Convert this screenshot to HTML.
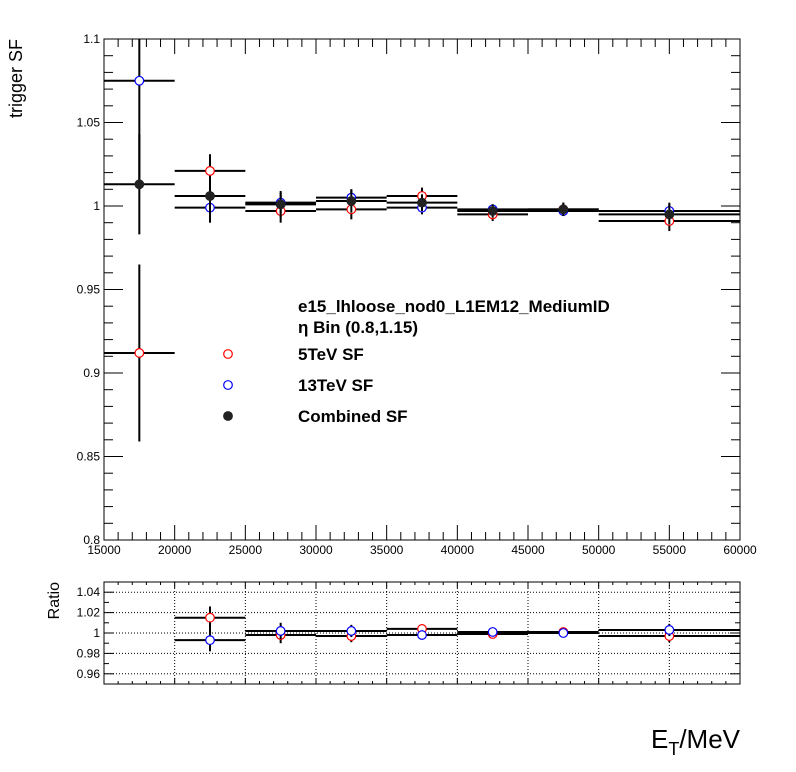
<!DOCTYPE html>
<html><head><meta charset="utf-8"><style>
body{margin:0;background:#fff;}
svg{display:block;font-family:"Liberation Sans",sans-serif;}
</style></head><body>
<svg id="c" width="796" height="772" xmlns="http://www.w3.org/2000/svg"></svg>
<script>
const binLo=[15000,20000,25000,30000,35000,40000,45000,50000];
const binHi=[20000,25000,30000,35000,40000,45000,50000,60000];
const sf5=[0.912,1.021,0.997,0.998,1.006,0.995,0.998,0.991];
const sf5Err=[0.053,0.010,0.007,0.006,0.005,0.004,0.004,0.006];
const sf13=[1.075,0.999,1.002,1.005,0.999,0.998,0.997,0.997];
const sf13Err=[0.06,0.009,0.006,0.005,0.004,0.003,0.003,0.005];
const sfComb=[1.013,1.006,1.001,1.003,1.002,0.997,0.998,0.995];
const sfCombErr=[0.03,0.011,0.008,0.007,0.005,0.004,0.004,0.006];
const ratio5=[null,1.015,0.998,0.997,1.004,0.999,1.001,0.997];
const ratio13=[null,0.993,1.002,1.002,0.998,1.001,1.000,1.003];
const ratioErr=[null,0.011,0.008,0.006,0.004,0.003,0.003,0.006];
const xTicks=[15000,20000,25000,30000,35000,40000,45000,50000,55000,60000];
const yTicks=[0.8,0.85,0.9,0.95,1,1.05,1.1];
const yLabels=["0.8","0.85","0.9","0.95","1","1.05","1.1"];
const rTicks=[0.96,0.98,1,1.02,1.04];
const rLabels=["0.96","0.98","1","1.02","1.04"];

const NS="http://www.w3.org/2000/svg";
const svg=document.getElementById('c');
const L=104,R=740,T=39,B=540,RT=582,RB=684;
const X=v=>L+(v-15000)/45000*(R-L);
const Y=v=>B-(v-0.8)/0.3*(B-T);
const YR=v=>RB-(v-0.95)/0.1*(RB-RT);
function mk(tag,a,txt){const e=document.createElementNS(NS,tag);for(const k in a)e.setAttribute(k,a[k]);if(txt!==undefined)e.textContent=txt;svg.appendChild(e);return e;}
function line(x1,y1,x2,y2,w,extra){const e=mk('line',Object.assign({x1,y1,x2,y2,stroke:'#000','stroke-width':w||1},extra||{}));return e;}

let f=mk('rect',{x:L,y:T,width:R-L,height:B-T,fill:'none',stroke:'#000','stroke-width':1});


f=mk('rect',{x:L,y:RT,width:R-L,height:RB-RT,fill:'none',stroke:'#000','stroke-width':1});



for(let v=15000;v<=60000;v+=1000){
  const maj=v%5000===0, x=X(v);
  const lm=maj?15:8;
  line(x,B,x,B-lm);line(x,T,x,T+lm);
  const lr=maj?6:3;
  line(x,RB,x,RB-lr);line(x,RT,x,RT+lr);
}
xTicks.forEach(v=>{const t=mk('text',{x:X(v),y:B+14,'font-size':12,'text-anchor':'middle'},String(v));

});
for(let i=0;i<=30;i++){const v=0.8+i*0.01,y=Y(v),maj=i%5===0,lm=maj?19:9;
  line(L,y,L+lm,y);line(R,y,R-lm,y);}
yTicks.forEach((v,i)=>{const t=mk('text',{x:L-4,y:Y(v)+4,'font-size':12,'text-anchor':'end'},yLabels[i]);

});
xTicks.slice(1,-1).forEach(v=>line(X(v),RT,X(v),RB,1,{'stroke-dasharray':'1,2'}));
for(let i=0;i<=10;i++){const v=0.95+i*0.01,y=YR(v),maj=i%2===1,lm=maj?10:5;
  line(L,y,L+lm,y);line(R,y,R-lm,y);}
rTicks.forEach((v,i)=>{line(L,YR(v),R,YR(v),1,{'stroke-dasharray':'1,2'});
const t=mk('text',{x:L-4,y:YR(v)+4,'font-size':12,'text-anchor':'end'},rLabels[i]);

});

let t=mk('text',{x:0,y:0,'font-size':18,'text-anchor':'end',transform:'translate(22,39) rotate(-90)'},'trigger SF');


t=mk('text',{x:0,y:0,'font-size':16,'text-anchor':'end',transform:'translate(59,582) rotate(-90)'},'Ratio');


t=mk('text',{x:740,y:748,'font-size':26,'text-anchor':'end'});
t.innerHTML='E<tspan font-size="18" dy="7">T</tspan><tspan dy="-7">/MeV</tspan>';



function series(vals,errs,color,fill,Yf,name){
  vals.forEach((v,i)=>{
    if(v===null)return;
    const cx=X((binLo[i]+binHi[i])/2), y=Yf(v);
    const yt=Math.max(Yf===Y?T:RT,Yf(v+errs[i])), yb=Math.min(Yf===Y?B:RB,Yf(v-errs[i]));
    const g=document.createElementNS(NS,'g');svg.appendChild(g);
    
    
    const a=(tag,o)=>{const e=document.createElementNS(NS,tag);for(const k in o)e.setAttribute(k,o[k]);g.appendChild(e);};
    a('line',{x1:X(binLo[i]),x2:X(binHi[i]),y1:y,y2:y,stroke:'#000','stroke-width':2});
    a('line',{x1:cx,x2:cx,y1:yt,y2:yb,stroke:'#000','stroke-width':2});
    a('circle',{cx:cx,cy:y,r:4.3,fill:fill,stroke:color,'stroke-width':1.2});
  });
}
series(sf5,sf5Err,'#f00','#fff',Y,'sf-5tev');
series(sf13,sf13Err,'#00f','#fff',Y,'sf-13tev');
series(sfComb,sfCombErr,'#222','#222',Y,'sf-combined');
series(ratio5,ratioErr,'#f00','#fff',YR,'ratio-5tev');
series(ratio13,ratioErr,'#00f','#fff',YR,'ratio-13tev');

t=mk('text',{x:298,y:312,'font-size':17,'font-weight':'bold'},'e15_lhloose_nod0_L1EM12_MediumID');


t=mk('text',{x:298,y:333,'font-size':17,'font-weight':'bold'},'η Bin (0.8,1.15)');


[['5TeV SF','#f00','#fff',360],['13TeV SF','#00f','#fff',391],['Combined SF','#222','#222',422]].forEach(e=>{
  const c=mk('circle',{cx:228,cy:e[3]-6,r:4.3,fill:e[2],stroke:e[1],'stroke-width':1.2});
  
  
  const tx=mk('text',{x:298,y:e[3],'font-size':17,'font-weight':'bold'},e[0]);
  
  
});
</script>
</body></html>
